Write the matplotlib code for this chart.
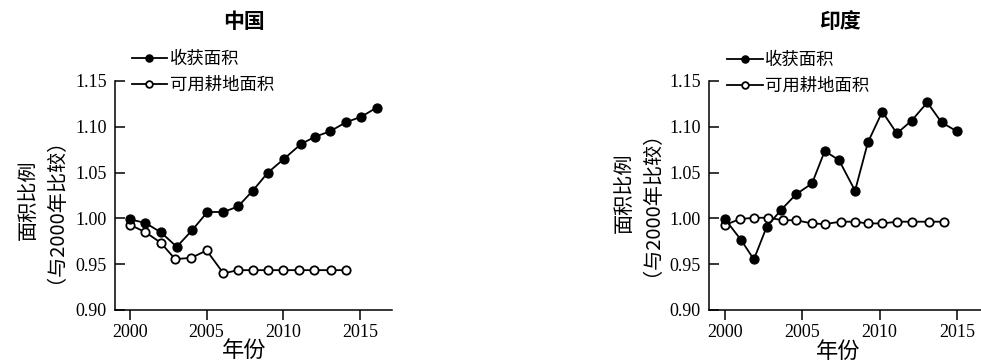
import matplotlib
matplotlib.use("Agg")
import matplotlib.pyplot as plt

# ---------------- data ----------------
titles = ["中国", "印度"]
legend_labels = ["收获面积", "可用耕地面积"]
y_ticks = [0.90, 0.95, 1.00, 1.05, 1.10, 1.15]
y_tick_labels = ["0.90", "0.95", "1.00", "1.05", "1.10", "1.15"]
x_ticks = [2000, 2005, 2010, 2015]
x_tick_labels = ["2000", "2005", "2010", "2015"]
x_label = "年份"
y_label = "面积比例\n（与2000年比较）"

china_harvest_x = [2000, 2001.0, 2002.0, 2003.05, 2004.05, 2005.05, 2006.1, 2007.05, 2008.0,
                   2009.0, 2010.05, 2011.15, 2012.05, 2013.05, 2014.1, 2015.1, 2016.1]
china_harvest_y = [0.999, 0.995, 0.985, 0.969, 0.987, 1.007, 1.007, 1.013, 1.030,
                   1.050, 1.065, 1.081, 1.089, 1.095, 1.105, 1.111, 1.121]
china_arable_x = [2000, 2001, 2002, 2002.95, 2004, 2005, 2006.1, 2007.05, 2008,
                  2009, 2010, 2011, 2012, 2013.1, 2014.1]
china_arable_y = [0.993, 0.985, 0.9735, 0.9555, 0.957, 0.965, 0.940, 0.9435, 0.9435,
                  0.9435, 0.9435, 0.9435, 0.9435, 0.9435, 0.9435]

india_harvest_x = [2000, 2001.05, 2001.87, 2002.7, 2003.62, 2004.59, 2005.63, 2006.45, 2007.37,
                   2008.41, 2009.24, 2010.17, 2011.11, 2012.06, 2013.08, 2014.0, 2014.97]
india_harvest_y = [0.9993, 0.9763, 0.9552, 0.9909, 1.0091, 1.0262, 1.0382, 1.0735, 1.0637,
                   1.0302, 1.083, 1.1165, 1.0928, 1.1066, 1.1266, 1.1048, 1.0953]
india_arable_x = [2000, 2000.96, 2001.9, 2002.81, 2003.74, 2004.59, 2005.63, 2006.45, 2007.47,
                  2008.38, 2009.23, 2010.17, 2011.13, 2012.06, 2013.2, 2014.18]
india_arable_y = [0.9927, 0.9993, 1.0007, 1.0007, 0.998, 0.998, 0.9945, 0.9938, 0.9964,
                  0.9964, 0.9945, 0.9945, 0.9964, 0.9964, 0.9964, 0.9964]

# ---------------- figure ----------------
W, H = 981, 362
fig = plt.figure(figsize=(W / 100, H / 100), dpi=100)

cjk = ["Noto Sans CJK SC", "DejaVu Sans"]
serif = ["Liberation Serif", "DejaVu Serif"]


def px_ax(l, r, b, t):
    return [l / W, 1 - b / H, (r - l) / W, (b - t) / H]


def fx(x):
    return x / W


def fy(y):
    return 1 - y / H


panels = [
    dict(rect=px_ax(115, 392, 310, 81), xlim=(1999.02, 2017.1),
         hx=china_harvest_x, hy=china_harvest_y, ax_=china_arable_x, ay=china_arable_y,
         title=titles[0], title_xy=(244, 21), xl_xy=(244.5, 350),
         yl_xy=(37, 200), leg_xy=(131.5, 50)),
    dict(rect=px_ax(709, 981, 310, 81), xlim=(1998.97, 2016.55),
         hx=india_harvest_x, hy=india_harvest_y, ax_=india_arable_x, ay=india_arable_y,
         title=titles[1], title_xy=(840, 21), xl_xy=(838, 351),
         yl_xy=(633, 193), leg_xy=(727, 51)),
]

for p in panels:
    ax = fig.add_axes(p["rect"])
    l_ar, = ax.plot(p["ax_"], p["ay"], color="black", lw=1.3, marker="o", ms=6.0,
                    mfc="white", mec="black", mew=1.3, zorder=3)
    l_hv, = ax.plot(p["hx"], p["hy"], color="black", lw=1.3, marker="o", ms=6.4,
                    mfc="black", mec="black", mew=1.0, zorder=4)
    ax.set_xlim(*p["xlim"])
    ax.set_ylim(0.90, 1.15)
    ax.set_xticks(x_ticks)
    ax.set_xticklabels(x_tick_labels, fontfamily=serif, fontsize=13)
    ax.set_yticks(y_ticks)
    ax.set_yticklabels(y_tick_labels, fontfamily=serif, fontsize=13)
    ax.tick_params(axis="x", direction="out", length=7, width=1.1, pad=3)
    ax.tick_params(axis="y", direction="in", length=7, width=1.1, pad=6)
    for s in ["top", "right"]:
        ax.spines[s].set_visible(False)
    for s in ["left", "bottom"]:
        ax.spines[s].set_linewidth(1.1)
    ax.patch.set_alpha(0)

    ax.legend([l_hv, l_ar], legend_labels, loc="upper left",
              bbox_to_anchor=(fx(p["leg_xy"][0]), fy(p["leg_xy"][1])),
              bbox_transform=fig.transFigure, frameon=False,
              prop={"family": cjk, "size": 12.5}, handlelength=2.05,
              handletextpad=0.15, labelspacing=0.45, borderpad=0,
              borderaxespad=0, numpoints=1, markerscale=0.8)

    fig.text(fx(p["title_xy"][0]), fy(p["title_xy"][1]), p["title"],
             ha="center", va="center", fontfamily=cjk, fontsize=15, fontweight="bold")
    fig.text(fx(p["xl_xy"][0]), fy(p["xl_xy"][1]), x_label,
             ha="center", va="center", fontfamily=cjk, fontsize=16)
    fig.text(fx(p["yl_xy"][0]), fy(p["yl_xy"][1]), y_label,
             ha="center", va="center", rotation=90, multialignment="center",
             fontfamily=cjk, fontsize=14.5, linespacing=0.74)

fig.savefig("out.png", dpi=100)
